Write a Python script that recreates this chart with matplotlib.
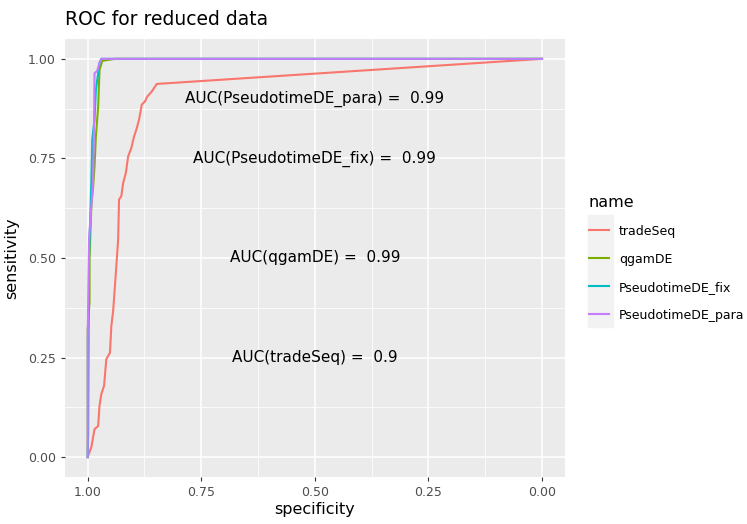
import numpy as np
import matplotlib.pyplot as plt
from matplotlib.patches import Rectangle
from matplotlib.lines import Line2D

# ROC curve points (specificity, sensitivity) per method
trade_spec = [1.0, 0.992, 0.985, 0.977, 0.974, 0.970, 0.964, 0.959, 0.951, 0.948, 0.944,
              0.938, 0.933, 0.931, 0.926, 0.922, 0.916, 0.911, 0.904, 0.898, 0.893, 0.887,
              0.881, 0.874, 0.869, 0.859, 0.848, 0.0]
trade_sens = [0.0, 0.025, 0.07, 0.078, 0.129, 0.158, 0.179, 0.246, 0.262, 0.329, 0.367,
              0.463, 0.546, 0.647, 0.655, 0.688, 0.714, 0.755, 0.776, 0.805, 0.822, 0.847,
              0.885, 0.893, 0.905, 0.918, 0.937, 1.0]

qgam_spec = [1.0, 1.0, 0.996, 0.996, 0.992, 0.988, 0.985, 0.982, 0.977, 0.974, 0.968, 0.94, 0.0]
qgam_sens = [0.0, 0.32, 0.39, 0.50, 0.63, 0.68, 0.73, 0.805, 0.88, 0.972, 0.995, 1.0, 1.0]

fix_spec = [1.0, 0.999, 0.997, 0.992, 0.990, 0.985, 0.982, 0.977, 0.974, 0.970, 0.0]
fix_sens = [0.0, 0.06, 0.505, 0.688, 0.797, 0.847, 0.922, 0.964, 0.99, 1.0, 1.0]

para_spec = [1.0, 1.0, 0.997, 0.992, 0.988, 0.986, 0.985, 0.979, 0.974, 0.970, 0.0]
para_sens = [0.0, 0.30, 0.55, 0.63, 0.70, 0.839, 0.964, 0.97, 0.99, 1.0, 1.0]

names = ['tradeSeq', 'qgamDE', 'PseudotimeDE_fix', 'PseudotimeDE_para']
colors = ['#F8766D', '#7CAE00', '#00BFC4', '#C77CFF']
auc_values = [0.9, 0.99, 0.99, 0.99]
auc_y = [0.25, 0.5, 0.75, 0.9]

fig = plt.figure(figsize=(7.47, 5.24), dpi=100)
ax = fig.add_axes([0.087, 0.0897, 0.669, 0.836])
ax.set_facecolor('#EBEBEB')

curves = [(trade_spec, trade_sens), (qgam_spec, qgam_sens),
          (fix_spec, fix_sens), (para_spec, para_sens)]
for (sp, se), col in zip(curves, colors):
    ax.plot(sp, se, color=col, lw=1.5)

for nm, auc, yy in zip(names, auc_values, auc_y):
    ax.text(0.5, yy, f'AUC({nm}) =  {auc}', ha='center', va='center',
            fontsize=11, color='black')

ax.set_xlim(1.05, -0.05)
ax.set_ylim(-0.05, 1.05)
ticks = [0, 0.25, 0.5, 0.75, 1.0]
ax.set_xticks(ticks)
ax.set_yticks(ticks)
ax.set_xticklabels(['0.00', '0.25', '0.50', '0.75', '1.00'])
ax.set_yticklabels(['0.00', '0.25', '0.50', '0.75', '1.00'])
ax.set_xticks([0.125, 0.375, 0.625, 0.875], minor=True)
ax.set_yticks([0.125, 0.375, 0.625, 0.875], minor=True)
ax.grid(which='major', color='white', lw=1.1)
ax.grid(which='minor', color='white', lw=0.55)
ax.set_axisbelow(True)
ax.tick_params(which='major', length=3, color='#333333', labelsize=9, labelcolor='#4D4D4D')
ax.tick_params(which='minor', length=0)
for s in ax.spines.values():
    s.set_visible(False)

ax.set_xlabel('specificity', fontsize=11.5, labelpad=2)
ax.set_ylabel('sensitivity', fontsize=11.5, labelpad=6)
ax.set_title('ROC for reduced data', loc='left', fontsize=13.5, pad=10)

# grey key column behind the legend handles
fig.patches.append(Rectangle((588 / 747, 1 - 327 / 524), 25 / 747, 112 / 524,
                             transform=fig.transFigure, color='#F2F2F2', zorder=-1))

handles = [Line2D([], [], color=c, lw=1.5) for c in colors]
leg = ax.legend(handles, names, loc='upper left', bbox_to_anchor=(580 / 747, 1 - 186 / 524),
                bbox_transform=fig.transFigure, title='name',
                frameon=False, fontsize=9, title_fontsize=11.5, handlelength=1.6,
                handletextpad=0.8, labelspacing=1.2, alignment='left', borderpad=0.2)

fig.savefig('out.png', dpi=100)
